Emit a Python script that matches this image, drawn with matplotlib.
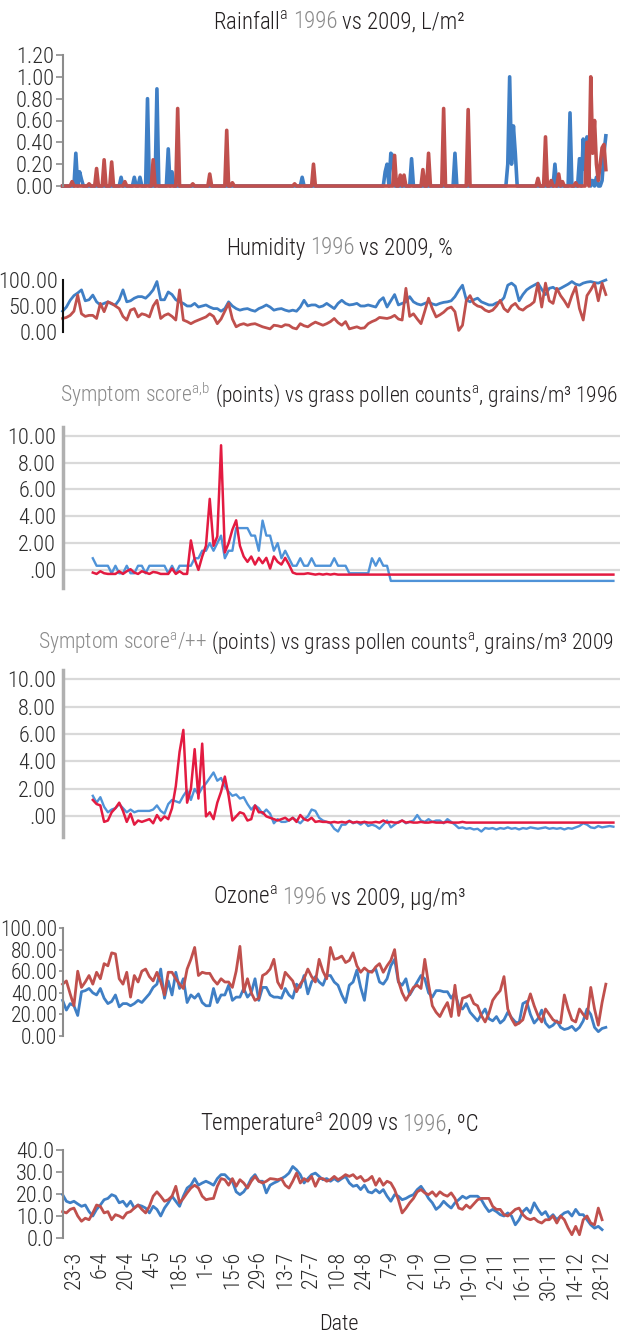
import numpy as np
import matplotlib.pyplot as plt
from matplotlib.offsetbox import TextArea, HPacker, AnchoredOffsetbox, DrawingArea

plt.rcParams['font.family'] = ['Roboto Condensed', 'DejaVu Sans']
plt.rcParams['font.weight'] = 300
plt.rcParams['mathtext.fontset'] = 'custom'
plt.rcParams['mathtext.rm'] = 'Roboto Condensed:light'

# x axis: days counted from 23 March
date_ticks = np.arange(0, 281, 14)
date_labels = ['23-3', '6-4', '20-4', '4-5', '18-5', '1-6', '15-6', '29-6', '13-7', '27-7',
               '10-8', '24-8', '7-9', '21-9', '5-10', '19-10', '2-11', '16-11', '30-11',
               '14-12', '28-12']

# rainfall, L/m2 (only rainy days listed, rest is 0)
rain96_days = [1, 3, 4, 25, 32, 35, 39, 44, 50, 52, 121, 165, 166, 168, 169, 179, 202,
               230, 231, 232, 233, 234, 255, 263, 268, 270, 271, 272, 273, 275, 277, 280, 281, 282]
rain96_mm = [0.30, 0.13, 0.06, 0.08, 0.08, 0.08, 0.80, 0.89, 0.34, 0.13, 0.08, 0.13, 0.20, 0.30, 0.28, 0.25, 0.30,
             0.20, 1.00, 0.20, 0.55, 0.30, 0.20, 0.67, 0.25, 0.43, 0.15, 0.45, 0.10, 0.05, 0.08, 0.05, 0.30, 0.46]
rain09_days = [-1, 8, 12, 16, 20, 27, 42, 55, 63, 72, 81, 84, 117, 127, 170, 173, 175, 185, 188,
               196, 209, 246, 250, 253, 257, 259, 266, 272, 274, 275, 276, 277, 278, 279, 280, 281, 282]
rain09_mm = [0.04, 0.02, 0.16, 0.24, 0.22, 0.04, 0.24, 0.71, 0.02, 0.11, 0.51, 0.03, 0.02, 0.20, 0.28, 0.10, 0.10, 0.15, 0.30,
             0.71, 0.70, 0.07, 0.45, 0.05, 0.11, 0.04, 0.03, 0.40, 1.00, 0.30, 0.60, 0.20, 0.05, 0.20, 0.35, 0.38, 0.15]

# humidity %, every 2nd day from day -6
hum96 = [40, 48, 61, 70, 75, 81, 60, 62, 71, 58, 52, 55, 58, 54, 52, 62, 81, 58, 60, 65,
         68, 68, 65, 72, 81, 97, 62, 62, 77, 72, 62, 58, 55, 50, 50, 55, 48, 50, 52, 48,
         45, 45, 40, 45, 58, 50, 45, 42, 44, 45, 42, 40, 45, 48, 52, 48, 42, 44, 45, 42,
         40, 42, 40, 48, 61, 50, 52, 52, 48, 50, 55, 50, 45, 55, 61,
         55, 52, 53, 55, 50, 50, 52, 50, 48, 60, 66, 48, 60, 72, 52, 55, 58, 68, 58, 54,
         52, 55, 58, 54, 52, 55, 57, 58, 60, 68, 80, 90, 62, 58, 62, 65, 58, 55, 52, 52,
         56, 58, 66, 90, 94, 88, 60, 72, 81, 86, 90, 94, 82, 72, 84, 86, 81, 84, 88, 92,
         97, 92, 90, 94, 96, 97, 95, 94, 97, 100]
hum09 = [26, 28, 32, 40, 71, 35, 30, 32, 32, 26, 55, 39, 58, 55, 50, 45, 30, 23, 42, 45,
         29, 35, 33, 29, 50, 61, 26, 32, 35, 30, 23, 81, 23, 20, 16, 20, 23, 26, 29, 35,
         30, 16, 25, 40, 55, 25, 10, 14, 16, 13, 15, 16, 13, 10, 8, 6, 13, 12, 10, 14,
         13, 8, 6, 16, 12, 10, 15, 19, 16, 13, 16, 20, 26, 18, 13,
         20, 6, 8, 10, 7, 8, 16, 20, 23, 28, 27, 26, 28, 32, 25, 23, 84, 30, 35, 25,
         16, 40, 65, 45, 29, 33, 38, 45, 48, 39, 3, 13, 60, 70, 55, 50, 48, 42, 39, 42,
         50, 61, 45, 39, 50, 55, 45, 42, 48, 52, 58, 94, 48, 94, 60, 55, 84, 70, 60, 48,
         70, 87, 45, 23, 70, 81, 94, 60, 94, 72]

# symptom score vs grass pollen, every 2nd day from day 10
symp96 = [0.87, 0.31, 0.31, 0.31, 0.31, -0.25, 0.31, -0.25, -0.25, 0.31,
          -0.25, -0.25, 0.31, 0.31, -0.25, 0.31, 0.31, 0.31, 0.31, 0.31,
          -0.25, 0.31, -0.25, 0.31, 0.31, 0.31, 0.31, 0.87, 0.87, 1.43,
          1.43, 2.0, 1.43, 2.0, 2.56, 0.87, 1.43, 1.43, 3.12, 3.12,
          3.12, 3.12, 2.56, 2.56, 1.43, 3.68, 2.56, 2.56, 1.43, 2.0,
          0.87, 1.43, 0.87, 0.31, 0.31, 0.87, 0.31, 0.31, 0.87, 0.31,
          0.31, 0.31, 0.31, 0.31, 0.87, 0.31, 0.31, 0.31, -0.25, -0.25,
          -0.25, -0.25, -0.25, -0.25, 0.87, 0.31, 0.87, 0.31, 0.31, -0.82] + [-0.82] * 59
pollen96 = [-0.2, -0.3, -0.1, -0.25, -0.3, -0.3, -0.3, -0.1, -0.3, -0.1,
            0.05, -0.2, -0.3, -0.1, -0.2, -0.3, -0.15, -0.2, -0.3, -0.3,
            -0.3, 0.1, -0.3, -0.1, -0.3, -0.3, 2.2, 0.8, 0.0, 1.0,
            1.8, 5.3, 1.8, 2.5, 9.3, 1.3, 2.0, 3.0, 3.7, 1.8,
            1.0, 0.6, 1.0, 0.4, 0.9, 0.5, 0.9, 0.1, 1.0, 0.6,
            0.4, 0.9, 0.4, -0.2, -0.3, -0.3, -0.3, -0.25, -0.3, -0.35,
            -0.3, -0.35, -0.3, -0.35, -0.3, -0.35] + [-0.35] * 73
symp09 = [1.5, 1.0, 1.4, 0.7, 0.3, 0.5, 0.6, 0.9, 0.6, 0.3,
          0.5, 0.3, 0.4, 0.4, 0.4, 0.4, 0.5, 0.8, 0.4, 0.2,
          0.9, 1.2, 1.1, 1.0, 1.5, 1.9, 1.2, 2.0, 1.6, 2.1,
          2.4, 2.8, 3.2, 2.6, 2.8, 2.2, 1.8, 1.5, 1.6, 1.3,
          1.4, 0.9, 0.5, 0.8, 0.6, 0.2, 0.5, 0.2, -0.5, -0.2,
          -0.4, -0.4, -0.3, -0.1, -0.3, -0.5, -0.2, 0.0, 0.5, 0.4,
          -0.1, -0.3, -0.4, -0.5, -0.9, -1.1, -0.6, -0.6, -0.3, -0.5,
          -0.4, -0.6, -0.4, -0.7, -0.6, -0.7, -0.9, -0.6, -0.3, -0.8, -0.6,
          -0.4, -0.3, -0.5, -0.4, -0.3, 0.1, -0.3, -0.4, -0.2, -0.4,
          -0.3, -0.3, -0.5, -0.2, -0.4, -0.6, -0.85, -0.8, -0.9, -0.85,
          -0.95, -0.9, -1.1, -0.85, -0.9, -0.85, -0.95, -0.85, -0.9, -0.8,
          -0.9, -0.85, -0.95, -0.85, -0.9, -0.8, -0.85, -0.9, -0.85, -0.8,
          -0.9, -0.85, -0.9, -0.85, -0.95, -0.85, -0.9, -0.8, -0.7, -0.5,
          -0.6, -0.8, -0.85, -0.7, -0.8, -0.75, -0.7, -0.75]
pollen09 = [1.2, 0.9, 0.8, -0.4, -0.3, 0.3, 0.6, 1.0, 0.4, -0.4,
            0.2, -0.6, -0.3, -0.4, -0.3, -0.2, -0.5, 0.1, -0.3, 0.0,
            -0.2, 0.6, 2.2, 4.7, 6.3, 1.0, 2.0, 4.9, 1.3, 5.3,
            0.0, 0.3, -0.2, 1.0, 1.8, 2.9, 1.5, -0.3, 0.0, 0.3,
            0.2, -0.3, -0.2, 0.8, 0.3, 0.3, 0.0, -0.1, -0.2, -0.3,
            -0.2, -0.1, -0.3, -0.1, -0.4, 0.1, -0.2, -0.3, -0.1, -0.4,
            -0.35, -0.4,
            -0.4, -0.45, -0.4, -0.45, -0.4, -0.45, -0.35, -0.45, -0.4, -0.45,
            -0.4, -0.45, -0.45, -0.4, -0.45, -0.3, -0.45, -0.4, -0.45, -0.45,
            -0.3, -0.45, -0.4, -0.45, -0.45, -0.4, -0.45, -0.45, -0.4, -0.45,
            -0.45, -0.45, -0.4, -0.45, -0.45, -0.45, -0.4, -0.45, -0.45] + [-0.45] * 38

# ozone ug/m3, every 2nd day from day -6
ozone96 = [33, 24, 30, 28, 19, 41, 42, 44, 40, 38, 44, 35, 30, 32, 38, 27, 30, 30, 28, 30,
           33, 31, 35, 39, 45, 48, 62, 35, 51, 38, 59, 44, 53, 31, 38, 35, 39, 31, 28, 28,
           44, 31, 38, 38, 47, 33, 36, 36, 44, 36, 40, 53, 33, 45, 45, 38, 36, 36, 35, 44,
           38, 35, 48, 45, 56, 39, 50, 55, 50, 47, 56, 56, 50, 47, 38, 31, 47, 50, 61, 45,
           33, 59, 60, 62, 50, 48, 53, 65, 71, 50, 47, 53, 38, 44, 50, 56, 53, 40, 36, 42,
           42, 41, 41,
           35, 40, 28, 25, 30, 22, 18, 14, 20, 25, 16, 14, 18, 12, 15, 22, 17, 13, 12, 30,
           32, 20, 12, 16, 24, 12, 8, 10, 14, 8, 6, 7, 9, 5, 8, 14, 25, 20, 8, 4, 7, 8]
ozone09 = [48, 51, 39, 28, 60, 45, 50, 56, 48, 59, 53, 67, 65, 77, 76, 53, 48, 59, 36, 56,
           50, 60, 62, 55, 51, 59, 50, 38, 59, 59, 53, 48, 44, 62, 71, 82, 56, 59, 58, 58,
           52, 48, 53, 50, 50, 45, 60, 83, 41, 53, 40, 33, 35, 56, 58, 62, 71, 50, 44, 59,
           55, 51, 41, 48, 53, 62, 55, 50, 71, 60, 53, 82, 71, 72, 74, 68, 70, 77, 65, 59,
           63, 60, 59, 64, 67, 59, 65, 70, 80, 51, 40, 33, 39, 45, 47, 44, 71, 48, 28, 22,
           18, 25, 31, 18, 47, 19, 35, 36, 38, 30, 28, 19, 13, 21, 33, 38, 42, 55, 25, 16,
           10, 12, 15, 28, 39, 28, 19, 13, 25, 20, 15, 13, 12, 38, 25, 15, 13, 25, 20, 16,
           45, 25, 10, 31, 48]

# temperature C, every 2nd day from day -6
temp96 = [19.7, 16.7, 16.0, 16.7, 15.5, 14.4, 15.0, 12.0, 10.0, 13.0, 15.0, 17.4, 18.0, 19.7, 19.0,
          16.0, 16.7, 14.4, 16.7, 13.6, 15.0, 14.5, 13.6, 11.4, 14.4, 13.0, 10.0, 13.6, 16.0, 19.0,
          16.7, 14.4, 19.0, 22.7, 24.0, 27.0, 24.0, 25.0, 25.8, 25.0, 24.0, 27.0, 28.8, 28.8, 27.0,
          25.8, 21.0, 19.7, 21.0, 23.5, 27.0, 28.8, 25.8, 25.8, 20.5, 24.0, 25.0, 25.8, 27.0, 28.0,
          29.5, 32.5, 31.0, 28.8, 25.0, 27.0, 28.8, 29.5, 28.0, 26.5, 27.0, 25.8, 27.0, 25.8, 27.0,
          28.0, 25.0, 23.5, 24.0, 22.0, 24.0, 21.0, 20.5, 22.0, 20.5, 22.0, 19.0, 16.7, 19.7, 19.0,
          17.4, 18.0, 19.0, 19.7, 22.0, 23.5, 21.0, 18.0, 16.0, 13.0, 14.4, 16.7, 15.0, 13.6, 16.0,
          17.4, 19.0, 18.0, 19.0, 19.0, 19.0, 17.4, 14.4, 12.0, 13.0, 12.0, 10.6, 10.0, 11.4, 10.0,
          6.0, 8.3, 12.0, 13.6, 11.4, 16.0, 13.0, 10.6, 12.0, 9.0, 10.6, 8.3, 10.0, 11.4, 12.0,
          10.0, 13.0, 10.6, 10.6, 8.3, 6.0, 4.5, 5.3, 3.8]
temp09 = [12.0, 11.4, 13.0, 13.6, 10.0, 7.6, 9.0, 8.3, 11.4, 15.0, 14.4, 11.4, 12.0, 8.3, 10.6,
          10.0, 9.0, 11.4, 12.0, 13.6, 15.0, 13.0, 11.4, 14.4, 19.0, 21.0, 19.0, 16.7, 17.4, 19.0,
          23.5, 16.0, 18.0, 20.5, 22.7, 24.0, 22.7, 19.0, 17.4, 17.8, 18.0, 23.5, 27.0, 26.5, 24.0,
          27.0, 23.5, 26.5, 25.0, 22.7, 25.8, 28.0, 25.8, 25.0, 25.8, 27.0, 26.8, 26.5, 27.0, 24.0,
          22.7, 25.8, 29.5, 25.0, 27.0, 25.8, 28.0, 23.5, 27.0, 27.0, 25.8, 26.5, 28.0, 26.5, 27.5,
          28.8, 28.0, 28.8, 27.0, 28.0, 25.8, 26.5, 28.0, 24.0, 27.0, 24.0, 25.8, 25.0, 22.0, 17.4,
          11.4, 13.5, 16.0, 18.0, 21.0, 22.0, 20.5, 19.7, 21.0, 19.0, 21.0, 19.7, 19.0, 20.5, 18.0,
          13.6, 13.0, 15.0, 13.6, 15.5, 17.4, 18.0, 18.0, 18.0, 14.4, 13.0, 13.0, 10.6, 10.0, 11.4,
          13.0, 13.6, 10.6, 9.0, 8.3, 9.0, 7.5, 6.8, 8.3, 8.3, 10.0, 6.8, 10.0, 8.3, 4.5,
          1.5, 5.3, 1.5, 8.3, 10.0, 6.8, 6.0, 13.6, 8.3]

BLUE = '#3f7fc5'
RED = '#c0504d'
BLUE_S = '#4f93d8'
RED_S = '#e31b41'
DARK = '#231f20'
GREY = '#8a8a8a'
FS_TICK = 16
FS_TITLE = 16.5

W, H = 623, 1335
fig = plt.figure(figsize=(W / 100, H / 100), dpi=100)
fig.patch.set_facecolor('white')


def add_panel(top, bottom, right=612):
    ax = fig.add_axes([63 / W, 1 - bottom / H, (right - 63) / W, (bottom - top) / H])
    ax.set_xlim(-5.8, (right - 74) / 1.886)
    for s in ['top', 'right', 'bottom']:
        ax.spines[s].set_visible(False)
    ax.spines['left'].set_color('#8c8c8c')
    ax.spines['left'].set_linewidth(1.5)
    ax.tick_params(axis='y', direction='out', length=5, width=1.2, color='#8c8c8c',
                   labelsize=FS_TICK, labelcolor='#2b2b2b', pad=1.5)
    ax.set_xticks([])
    return ax


def title(y_px, parts, x_px=339, size=FS_TITLE):
    children = []
    for text, color, gap in parts:
        if gap:
            children.append(DrawingArea(gap, 1))
        children.append(TextArea(text, textprops=dict(color=color, fontsize=size)))
    box = HPacker(children=children, align='baseline', pad=0, sep=0)
    fig.add_artist(AnchoredOffsetbox(loc='center', child=box, pad=0, borderpad=0, frameon=False,
                                     bbox_to_anchor=(x_px / W, 1 - y_px / H),
                                     bbox_transform=fig.transFigure))


def every2(start, values):
    return start + 2 * np.arange(len(values))


# rainfall
rain_grid = np.arange(-6, 283)
rain96 = np.zeros(len(rain_grid))
rain96[np.array(rain96_days) + 6] = rain96_mm
rain09 = np.zeros(len(rain_grid))
rain09[np.array(rain09_days) + 6] = rain09_mm

ax = add_panel(55, 186)
ax.plot(rain_grid, rain96, color=BLUE, lw=2.6, clip_on=False)
ax.plot(rain_grid, rain09, color=RED, lw=2.6, clip_on=False)
ax.set_ylim(0, 1.2)
ax.set_yticks(np.arange(0, 1.21, 0.2))
ax.set_yticklabels([f'{v:.2f}' for v in np.arange(0, 1.21, 0.2)])
title(22, [('Rainfall$^{\\mathregular{a}}$', DARK, 0), ('1996', GREY, 3.2), ('vs 2009, L/m²', DARK, 3.2)])

# humidity
ax = add_panel(280, 332)
ax.plot(every2(-6, hum96), hum96, color=BLUE, lw=2.0, clip_on=False)
ax.plot(every2(-6, hum09), hum09, color=RED, lw=2.0, clip_on=False)
ax.set_ylim(0, 100)
ax.set_yticks([0, 50, 100])
ax.set_yticklabels(['0.00', '50.00', '100.00'])
ax.spines['left'].set_color('#111111')
ax.tick_params(axis='y', length=0, pad=4)
title(248, [('Humidity', DARK, 0), ('1996', GREY, 3.2), ('vs 2009, %', DARK, 3.2)])

# symptom panels
sym_labels = ['.00', '2.00', '4.00', '6.00', '8.00', '10.00']
for top, bottom, lo, s, p, ttl, ty, tx in [
        (426.5, 588, -1.35, symp96, pollen96,
         [('Symptom score$^{\\mathregular{a{,}b}}$', GREY, 0),
          ('(points) vs grass pollen counts$^{\\mathregular{a}}$, grains/m³ 1996', DARK, 3)], 395, 339),
        (669.5, 837, -1.5, symp09, pollen09,
         [('Symptom score$^{\\mathregular{a}}$/++', GREY, 0),
          ('(points) vs grass pollen counts$^{\\mathregular{a}}$, grains/m³ 2009', DARK, 3)], 643, 326)]:
    ax = add_panel(top, bottom, right=620)
    ax.yaxis.grid(True, color='#d9d9d9', lw=1.6)
    ax.set_axisbelow(True)
    ax.plot(every2(10, s), s, color=BLUE_S, lw=1.7)
    ax.plot(every2(10, p), p, color=RED_S, lw=1.8)
    ax.set_ylim(lo, 10.7)
    ax.set_yticks(np.arange(0, 11, 2))
    ax.set_yticklabels(sym_labels)
    ax.spines['left'].set_color('#b0b0b0')
    ax.spines['left'].set_linewidth(2.5)
    ax.tick_params(axis='y', length=0, pad=5)
    title(ty, ttl, x_px=tx, size=15.5)

# ozone
ax = add_panel(928, 1036)
ax.plot(every2(-6, ozone96), ozone96, color=BLUE, lw=2.0, clip_on=False)
ax.plot(every2(-6, ozone09), ozone09, color=RED, lw=2.0, clip_on=False)
ax.set_ylim(0, 100)
ax.set_yticks(np.arange(0, 101, 20))
ax.set_yticklabels([f'{v:.2f}' for v in np.arange(0, 101, 20)])
ax.tick_params(axis='y', length=3, pad=1, labelsize=15.5)
title(898, [('Ozone$^{\\mathregular{a}}$', DARK, 0), ('1996', GREY, 3.2), ('vs 2009, µg/m³', DARK, 3.2)])

# temperature
ax = add_panel(1150, 1238)
ax.plot(every2(-6, temp96), temp96, color=BLUE, lw=2.0, clip_on=False)
ax.plot(every2(-6, temp09), temp09, color=RED, lw=2.0, clip_on=False)
ax.set_ylim(0, 40)
ax.set_yticks(np.arange(0, 41, 10))
ax.set_yticklabels([f'{v:.1f}' for v in np.arange(0, 41, 10)])
ax.set_xticks(date_ticks)
ax.set_xticklabels(date_labels, rotation=90)
ax.tick_params(axis='x', length=0, labelsize=FS_TICK, labelcolor='#2b2b2b', pad=9)
title(1124, [('Temperature$^{\\mathregular{a}}$ 2009 vs', DARK, 0), ('1996', GREY, 3.2), (', ºC', DARK, 0)])

fig.text(339 / W, 1 - 1325 / H, 'Date', ha='center', va='center', fontsize=FS_TICK, color=DARK)

fig.savefig('out.png', dpi=100, facecolor='white')
